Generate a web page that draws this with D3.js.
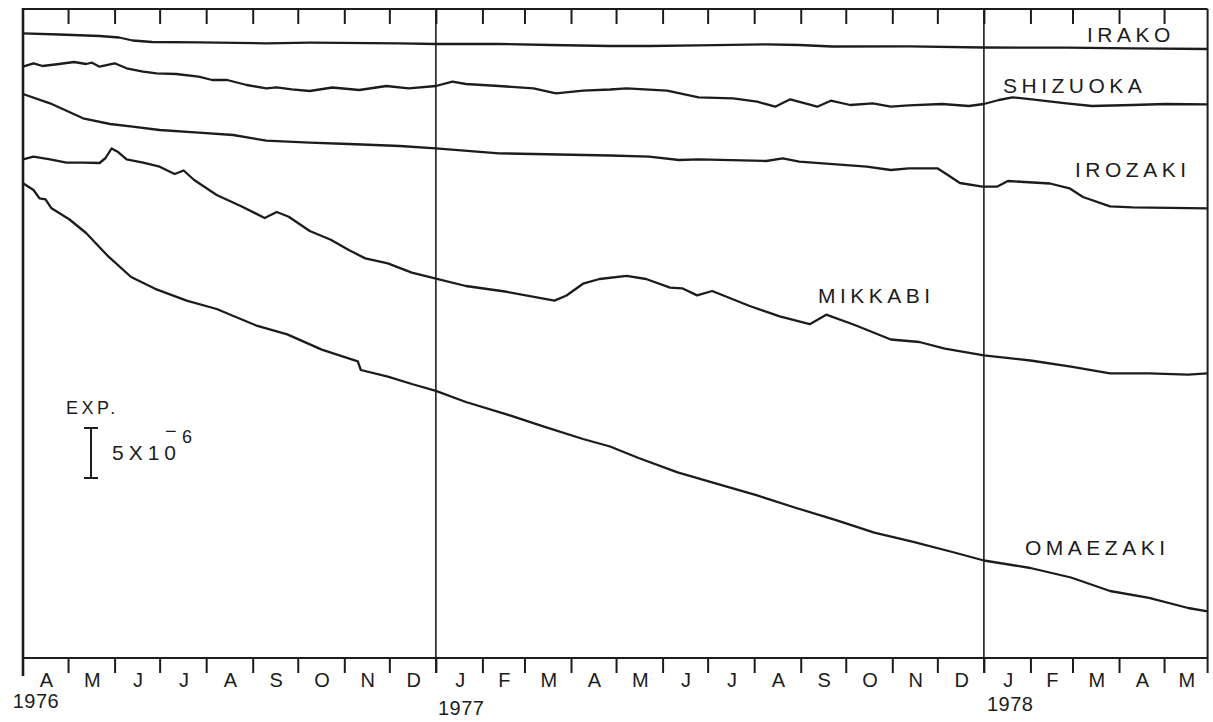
<!DOCTYPE html>
<html>
<head>
<meta charset="utf-8">
<script src="https://cdn.jsdelivr.net/npm/d3@7"></script>
<style>
  html, body { margin: 0; padding: 0; background: #ffffff; }
  svg { display: block; }
  text { font-family: "Liberation Sans", Arial, Helvetica, sans-serif; fill: #1c1c1c; }
</style>
</head>
<body>
<svg id="chart" width="1213" height="722"></svg>
<script>
// ---------------- DATA (strain, units of 1e-6, relative to each trace's start) ----------------
const stations = ["IRAKO", "SHIZUOKA", "IROZAKI", "MIKKABI", "OMAEZAKI"];
// vertical offset of each trace on the chart (1e-6 units)
const baselines = [62.47, 59.13, 56.4, 49.87, 47.47];

const irako = [
  ["1976-04-01", 0], ["1976-04-25", -0.12], ["1976-05-22", -0.27], ["1976-06-04", -0.42],
  ["1976-06-13", -0.72], ["1976-06-26", -0.87], ["1976-07-27", -0.9], ["1976-09-10", -1.0],
  ["1976-10-09", -0.94], ["1976-12-08", -1.0], ["1977-01-01", -1.07], ["1977-02-12", -1.07],
  ["1977-03-18", -1.17], ["1977-04-27", -1.27], ["1977-05-23", -1.27], ["1977-06-25", -1.2],
  ["1977-08-09", -1.1], ["1977-08-31", -1.17], ["1977-09-22", -1.32], ["1977-11-12", -1.3],
  ["1978-01-01", -1.42], ["1978-02-25", -1.44], ["1978-04-10", -1.5], ["1978-05-30", -1.57]
];

const shizuoka = [
  ["1976-04-01", 0], ["1976-04-08", 0.34], ["1976-04-14", 0.07], ["1976-04-25", 0.27],
  ["1976-05-05", 0.47], ["1976-05-13", 0.27], ["1976-05-17", 0.4], ["1976-05-22", 0],
  ["1976-06-01", 0.34], ["1976-06-09", -0.16], ["1976-06-20", -0.5], ["1976-06-29", -0.66],
  ["1976-07-12", -0.73], ["1976-07-27", -1.0], ["1976-08-05", -1.33], ["1976-08-15", -1.33],
  ["1976-08-28", -1.83], ["1976-09-10", -2.16], ["1976-09-17", -2.06], ["1976-09-27", -2.26],
  ["1976-10-09", -2.43], ["1976-10-24", -2.08], ["1976-11-11", -2.33], ["1976-11-29", -1.93],
  ["1976-12-14", -2.16], ["1977-01-01", -1.93], ["1977-01-12", -1.5], ["1977-01-21", -1.73],
  ["1977-02-12", -1.93], ["1977-03-07", -2.16], ["1977-03-22", -2.66], ["1977-04-09", -2.4],
  ["1977-04-27", -2.28], ["1977-05-08", -2.16], ["1977-06-04", -2.4], ["1977-06-25", -3.06],
  ["1977-07-18", -3.16], ["1977-08-03", -3.5], ["1977-08-15", -4.0], ["1977-08-25", -3.26],
  ["1977-09-12", -4.0], ["1977-09-21", -3.4], ["1977-10-04", -3.83], ["1977-10-19", -3.66],
  ["1977-10-31", -4.0], ["1977-11-12", -3.86], ["1977-12-04", -3.73], ["1977-12-22", -3.93],
  ["1978-01-01", -3.73], ["1978-01-11", -3.33], ["1978-01-20", -3.06], ["1978-02-02", -3.26],
  ["1978-02-25", -3.66], ["1978-03-14", -3.93], ["1978-04-10", -3.83], ["1978-05-02", -3.73],
  ["1978-05-30", -3.76]
];

const irozaki = [
  ["1976-04-01", 0], ["1976-04-19", -0.93], ["1976-05-11", -2.43], ["1976-05-29", -3.0],
  ["1976-06-13", -3.27], ["1976-07-01", -3.6], ["1976-07-27", -3.87], ["1976-08-19", -4.1],
  ["1976-09-10", -4.67], ["1976-10-09", -4.87], ["1976-11-04", -5.0], ["1976-12-08", -5.2],
  ["1977-01-01", -5.43], ["1977-02-12", -5.93], ["1977-03-07", -6.0], ["1977-04-27", -6.15],
  ["1977-05-23", -6.27], ["1977-06-12", -6.6], ["1977-06-25", -6.53], ["1977-08-09", -6.7],
  ["1977-08-20", -6.43], ["1977-08-31", -6.77], ["1977-10-15", -7.27], ["1977-10-31", -7.6],
  ["1977-11-12", -7.43], ["1977-12-01", -7.43], ["1977-12-07", -8.0], ["1977-12-16", -8.9],
  ["1977-12-31", -9.27], ["1978-01-10", -9.25], ["1978-01-17", -8.7], ["1978-02-14", -8.95],
  ["1978-02-27", -9.43], ["1978-03-08", -10.3], ["1978-03-26", -11.23], ["1978-04-10", -11.33],
  ["1978-05-30", -11.43]
];

const mikkabi = [
  ["1976-04-01", 0], ["1976-04-08", 0.26], ["1976-04-19", 0], ["1976-04-30", -0.34],
  ["1976-05-11", -0.34], ["1976-05-22", -0.37], ["1976-05-26", 0.13], ["1976-05-30", 1.08],
  ["1976-06-03", 0.76], ["1976-06-09", 0], ["1976-06-20", -0.34], ["1976-07-01", -0.74],
  ["1976-07-11", -1.47], ["1976-07-17", -1.12], ["1976-07-24", -2.07], ["1976-08-08", -3.57],
  ["1976-08-24", -4.67], ["1976-09-09", -5.87], ["1976-09-17", -5.27], ["1976-09-25", -5.74],
  ["1976-10-09", -7.17], ["1976-10-23", -8.05], ["1976-11-04", -9.07], ["1976-11-15", -9.91],
  ["1976-11-30", -10.41], ["1976-12-16", -11.33], ["1977-01-01", -11.93], ["1977-01-21", -12.67],
  ["1977-02-16", -13.22], ["1977-03-21", -14.13], ["1977-03-29", -13.62], ["1977-04-09", -12.44],
  ["1977-04-20", -11.97], ["1977-05-08", -11.65], ["1977-05-21", -11.97], ["1977-06-06", -12.83],
  ["1977-06-14", -12.9], ["1977-06-24", -13.61], ["1977-07-04", -13.17], ["1977-07-29", -14.67],
  ["1977-08-18", -15.71], ["1977-09-07", -16.49], ["1977-09-18", -15.54], ["1977-10-07", -16.57],
  ["1977-10-31", -18.02], ["1977-11-19", -18.27], ["1977-12-06", -18.93], ["1978-01-01", -19.61],
  ["1978-02-01", -20.12], ["1978-02-28", -20.73], ["1978-03-26", -21.41], ["1978-04-21", -21.41],
  ["1978-05-17", -21.54], ["1978-05-30", -21.41]
];

const omaezaki = [
  ["1976-04-01", 0], ["1976-04-08", -0.67], ["1976-04-12", -1.5], ["1976-04-16", -1.6],
  ["1976-04-20", -2.5], ["1976-05-02", -3.62], ["1976-05-13", -4.97], ["1976-05-28", -7.34],
  ["1976-06-12", -9.37], ["1976-06-28", -10.55], ["1976-07-19", -11.73], ["1976-08-08", -12.57],
  ["1976-09-03", -14.2], ["1976-09-24", -15.11], ["1976-10-17", -16.63], ["1976-11-10", -17.81],
  ["1976-11-12", -18.67], ["1976-11-30", -19.33], ["1976-12-16", -20.07], ["1977-01-01", -20.75],
  ["1977-01-21", -21.87], ["1977-02-16", -23.05], ["1977-03-14", -24.33], ["1977-04-09", -25.57],
  ["1977-04-27", -26.32], ["1977-05-16", -27.47], ["1977-06-11", -28.91], ["1977-07-08", -30.09],
  ["1977-08-03", -31.21], ["1977-08-29", -32.47], ["1977-09-24", -33.65], ["1977-10-20", -34.94],
  ["1977-11-15", -35.86], ["1977-12-11", -36.87], ["1978-01-01", -37.72], ["1978-02-01", -38.47],
  ["1978-02-28", -39.42], ["1978-03-26", -40.77], ["1978-04-21", -41.45], ["1978-05-17", -42.47],
  ["1978-05-30", -42.81]
];

const monthLabels = ["A","M","J","J","A","S","O","N","D","J","F","M","A","M","J","J","A","S","O","N","D","J","F","M","A","M"];
const yearLabels = ["1976", "1977", "1978"];
const scaleBarValue = 5; // 5 x 10^-6

// ---------------- LAYOUT ----------------
const parse = d3.timeParse("%Y-%m-%d");
const startDate = parse("1976-04-01");
const endDate = parse("1978-05-30");
const svg = d3.select("#chart");

const x = d3.scaleTime().domain([startDate, endDate]).range([23, 1207.6]);
const y = d3.scaleLinear().domain([0, 65]).range([658, 8]);

const TOP = 9, BOTTOM = 658, INK = "#1c1c1c";

const seriesData = [irako, shizuoka, irozaki, mikkabi, omaezaki].map((arr, i) =>
  arr.map(([d, v]) => ({ date: parse(d), value: v + baselines[i] })));

// month boundaries
const monthStarts = d3.timeMonth.range(startDate, endDate);

// top axis (frame top with inward ticks)
const topAxis = d3.axisBottom(x).tickValues(monthStarts.slice(1)).tickSize(15).tickFormat("");
const gTop = svg.append("g").attr("transform", `translate(0,${TOP})`).call(topAxis);
gTop.select(".domain").attr("stroke", INK).attr("stroke-width", 2).attr("d", `M${x(startDate)},0H${x(endDate)}`);
gTop.selectAll(".tick line").attr("stroke", INK).attr("stroke-width", 2);

// bottom axis
const botAxis = d3.axisBottom(x).tickValues(monthStarts.slice(1)).tickSize(15).tickFormat("");
const gBot = svg.append("g").attr("transform", `translate(0,${BOTTOM})`).call(botAxis);
gBot.select(".domain").attr("stroke", INK).attr("stroke-width", 2).attr("d", `M${x(startDate)},0H${x(endDate)}`);
gBot.selectAll(".tick line").attr("stroke", INK).attr("stroke-width", 2);

// left & right frame
svg.append("line").attr("x1", x(startDate)).attr("x2", x(startDate)).attr("y1", TOP - 1).attr("y2", BOTTOM + 18)
  .attr("stroke", INK).attr("stroke-width", 2.6);
svg.append("line").attr("x1", x(endDate)).attr("x2", x(endDate)).attr("y1", TOP).attr("y2", BOTTOM + 15)
  .attr("stroke", INK).attr("stroke-width", 2);

// year dividers
[parse("1977-01-01"), parse("1978-01-01")].forEach(d => {
  svg.append("line").attr("x1", x(d)).attr("x2", x(d)).attr("y1", TOP).attr("y2", BOTTOM + 15)
    .attr("stroke", INK).attr("stroke-width", 1.6);
});

// month labels centred in each month
const bounds = monthStarts.concat([endDate]);
svg.append("g").selectAll("text").data(monthLabels).join("text")
  .attr("x", (d, i) => (x(bounds[i]) + x(bounds[i + 1])) / 2 + 1)
  .attr("y", 687)
  .attr("text-anchor", "middle")
  .attr("font-size", 20)
  .text(d => d);

// year labels
const yearPos = [[36, 708], [(x(parse("1977-01-01")) + x(parse("1977-02-01"))) / 2 + 2, 715], [(x(parse("1978-01-01")) + x(parse("1978-02-01"))) / 2 + 3, 711]];
svg.append("g").selectAll("text").data(yearLabels).join("text")
  .attr("x", (d, i) => yearPos[i][0])
  .attr("y", (d, i) => yearPos[i][1])
  .attr("text-anchor", "middle")
  .attr("font-size", 20)
  .attr("letter-spacing", 0.5)
  .text(d => d);

// traces
const line = d3.line().x(d => x(d.date)).y(d => y(d.value)).curve(d3.curveLinear);
svg.append("g").selectAll("path").data(seriesData).join("path")
  .attr("d", line)
  .attr("fill", "none")
  .attr("stroke", INK)
  .attr("stroke-width", 2.3)
  .attr("stroke-linejoin", "round");

// station labels
const labelPos = [[1087, 42], [1003, 93], [1075, 177], [818, 303], [1025, 555]];
svg.append("g").selectAll("text").data(stations).join("text")
  .attr("x", (d, i) => labelPos[i][0])
  .attr("y", (d, i) => labelPos[i][1])
  .attr("font-size", 21)
  .attr("letter-spacing", 4.5)
  .text(d => d);

// scale bar
const sbX = 91, sbTop = 428;
const sbBottom = sbTop + (y(0) - y(scaleBarValue));
svg.append("line").attr("x1", sbX).attr("x2", sbX).attr("y1", sbTop).attr("y2", sbBottom).attr("stroke", INK).attr("stroke-width", 2);
svg.append("line").attr("x1", sbX - 7).attr("x2", sbX + 7).attr("y1", sbTop).attr("y2", sbTop).attr("stroke", INK).attr("stroke-width", 2);
svg.append("line").attr("x1", sbX - 7).attr("x2", sbX + 7).attr("y1", sbBottom).attr("y2", sbBottom).attr("stroke", INK).attr("stroke-width", 2);
svg.append("text").attr("x", 66).attr("y", 414).attr("font-size", 18).attr("letter-spacing", 3.5).text("EXP.");
svg.append("text").attr("x", 112).attr("y", 460).attr("font-size", 21).attr("letter-spacing", 5).text("5X10");
const sup = svg.append("text").attr("font-size", 20);
sup.append("tspan").attr("x", 165).attr("y", 438).text("\u2212");
sup.append("tspan").attr("x", 182).attr("y", 443).attr("font-size", 18).text("6");
</script>
</body>
</html>
